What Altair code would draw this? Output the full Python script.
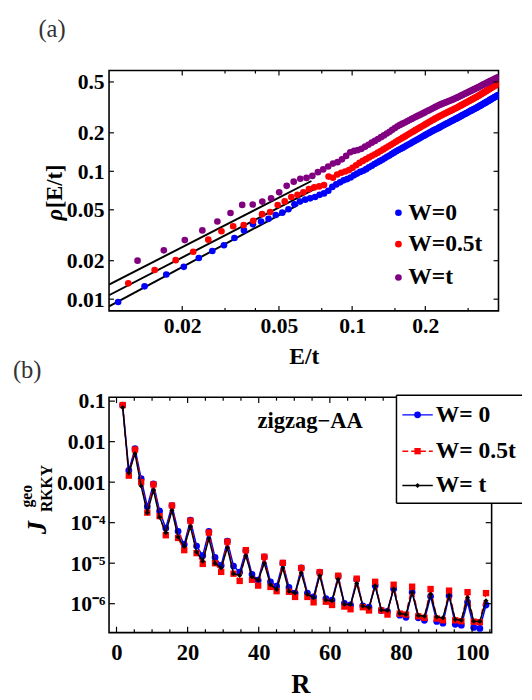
import altair as alt
import pandas as pd

FONT = "Liberation Serif"

# ---------------- panel (a): density of states ----------------
series_a = ["W=0", "W=0.5t", "W=t"]
colors_a = ["#0000ff", "#ff0000", "#800080"]

E_W0 = [0.0109, 0.0140, 0.0172, 0.0203, 0.0234, 0.0266, 0.0297, 0.0328, 0.0359, 0.0391,
        0.0422, 0.0453, 0.0485, 0.0516, 0.0547, 0.0579, 0.0610, 0.0641, 0.0672, 0.0704,
        0.0735, 0.0766, 0.0798, 0.0829, 0.0860, 0.0892, 0.0923, 0.0954, 0.0985, 0.1017,
        0.1048, 0.1079, 0.1111, 0.1142, 0.1173, 0.1205, 0.1236, 0.1267, 0.1298, 0.1330,
        0.1361, 0.1392, 0.1424, 0.1455, 0.1486, 0.1518, 0.1549, 0.1580, 0.1611, 0.1643,
        0.1674, 0.1705, 0.1737, 0.1768, 0.1799, 0.1830, 0.1862, 0.1893, 0.1924, 0.1956,
        0.1987, 0.2018, 0.2050, 0.2081, 0.2112, 0.2143, 0.2175, 0.2206, 0.2237, 0.2269,
        0.2300, 0.2331, 0.2362, 0.2394, 0.2425, 0.2456, 0.2488, 0.2519, 0.2550, 0.2581,
        0.2613, 0.2644, 0.2675, 0.2707, 0.2738, 0.2769, 0.2800, 0.2832, 0.2863, 0.2894,
        0.2926, 0.2957, 0.2988, 0.3019, 0.3051, 0.3082, 0.3113, 0.3145, 0.3176, 0.3207,
        0.3238, 0.3270, 0.3301, 0.3332, 0.3364, 0.3395, 0.3426, 0.3457, 0.3489, 0.3520,
        0.3551, 0.3583, 0.3614, 0.3645, 0.3676, 0.3708, 0.3739, 0.3770, 0.3802, 0.3833,
        0.3864, 0.3895, 0.3927, 0.3958, 0.3990]
rho_W0 = [0.0095, 0.0126, 0.0156, 0.0179, 0.0210, 0.0238, 0.0264, 0.0301, 0.0345, 0.0385,
          0.0405, 0.0425, 0.0455, 0.0475, 0.0505, 0.0552, 0.0580, 0.0600, 0.0615, 0.0630,
          0.0655, 0.0672, 0.0705, 0.0755, 0.0790, 0.0820, 0.0850, 0.0870, 0.0895, 0.0930,
          0.0960, 0.0990, 0.1010, 0.1040, 0.1075, 0.1105, 0.1140, 0.1170, 0.1200, 0.1230,
          0.1265, 0.1300, 0.1330, 0.1365, 0.1400, 0.1435, 0.1465, 0.1495, 0.1525, 0.1555,
          0.1590, 0.1620, 0.1650, 0.1685, 0.1715, 0.1750, 0.1780, 0.1810, 0.1845, 0.1880,
          0.1910, 0.1945, 0.1975, 0.2005, 0.2040, 0.2070, 0.2100, 0.2130, 0.2150, 0.2185,
          0.2215, 0.2250, 0.2280, 0.2310, 0.2340, 0.2370, 0.2400, 0.2430, 0.2460, 0.2490,
          0.2520, 0.2550, 0.2580, 0.2605, 0.2640, 0.2670, 0.2700, 0.2735, 0.2765, 0.2795,
          0.2825, 0.2855, 0.2885, 0.2920, 0.2950, 0.2980, 0.3010, 0.3040, 0.3070, 0.3100,
          0.3130, 0.3160, 0.3195, 0.3225, 0.3260, 0.3290, 0.3325, 0.3360, 0.3395, 0.3430,
          0.3460, 0.3495, 0.3530, 0.3565, 0.3600, 0.3635, 0.3670, 0.3705, 0.3740, 0.3775,
          0.3810, 0.3845, 0.3880, 0.3915, 0.3950]

E_W05 = [0.0120, 0.0154, 0.0188, 0.0222, 0.0256, 0.0290, 0.0324, 0.0358, 0.0392, 0.0426,
         0.0460, 0.0494, 0.0528, 0.0562, 0.0596, 0.0630, 0.0664, 0.0698, 0.0732, 0.0766,
         0.0800, 0.0834, 0.0868, 0.0902, 0.0936, 0.0970, 0.1004, 0.1038, 0.1072, 0.1106,
         0.1140, 0.1174, 0.1208, 0.1242, 0.1276, 0.1310, 0.1344, 0.1378, 0.1412, 0.1446,
         0.1480, 0.1514, 0.1548, 0.1582, 0.1616, 0.1650, 0.1684, 0.1718, 0.1752, 0.1786,
         0.1820, 0.1854, 0.1888, 0.1922, 0.1956, 0.1990, 0.2024, 0.2058, 0.2092, 0.2126,
         0.2160, 0.2194, 0.2228, 0.2262, 0.2296, 0.2330, 0.2364, 0.2398, 0.2432, 0.2466,
         0.2500, 0.2534, 0.2568, 0.2602, 0.2636, 0.2670, 0.2704, 0.2738, 0.2772, 0.2806,
         0.2840, 0.2874, 0.2908, 0.2942, 0.2976, 0.3010, 0.3044, 0.3078, 0.3112, 0.3146,
         0.3180, 0.3214, 0.3248, 0.3282, 0.3316, 0.3350, 0.3384, 0.3418, 0.3452, 0.3486,
         0.3520, 0.3554, 0.3588, 0.3622, 0.3656, 0.3690, 0.3724, 0.3758, 0.3792, 0.3826,
         0.3860, 0.3894, 0.3928, 0.3962, 0.3996]
rho_W05 = [0.0133, 0.0169, 0.0202, 0.0235, 0.0292, 0.0340, 0.0372, 0.0380, 0.0410, 0.0462,
           0.0480, 0.0545, 0.0582, 0.0630, 0.0655, 0.0685, 0.0725, 0.0748, 0.0762, 0.0780,
           0.0910, 0.0890, 0.0945, 0.0975, 0.0997, 0.1023, 0.1064, 0.1116, 0.1163, 0.1206,
           0.1245, 0.1284, 0.1323, 0.1361, 0.1400, 0.1441, 0.1484, 0.1527, 0.1570, 0.1614,
           0.1658, 0.1702, 0.1746, 0.1789, 0.1833, 0.1876, 0.1920, 0.1964, 0.2008, 0.2052,
           0.2097, 0.2141, 0.2186, 0.2230, 0.2273, 0.2316, 0.2360, 0.2404, 0.2448, 0.2492,
           0.2536, 0.2580, 0.2625, 0.2665, 0.2705, 0.2742, 0.2780, 0.2818, 0.2855, 0.2893,
           0.2930, 0.2967, 0.3005, 0.3042, 0.3079, 0.3116, 0.3156, 0.3195, 0.3238, 0.3277,
           0.3320, 0.3360, 0.3402, 0.3442, 0.3485, 0.3525, 0.3568, 0.3607, 0.3650, 0.3690,
           0.3733, 0.3773, 0.3816, 0.3860, 0.3906, 0.3953, 0.4000, 0.4047, 0.4094, 0.4141,
           0.4189, 0.4236, 0.4284, 0.4332, 0.4380, 0.4428, 0.4476, 0.4525, 0.4573, 0.4622,
           0.4671, 0.4720, 0.4769, 0.4818, 0.4867]

E_Wt = [0.0131, 0.0168, 0.0205, 0.0242, 0.0279, 0.0316, 0.0353, 0.0390, 0.0427, 0.0464,
        0.0501, 0.0538, 0.0575, 0.0612, 0.0649, 0.0686, 0.0723, 0.0760, 0.0797, 0.0834,
        0.0871, 0.0908, 0.0945, 0.0982, 0.1019, 0.1056, 0.1093, 0.1130, 0.1167, 0.1204,
        0.1241, 0.1278, 0.1315, 0.1352, 0.1389, 0.1426, 0.1463, 0.1500, 0.1537, 0.1574,
        0.1611, 0.1648, 0.1685, 0.1722, 0.1759, 0.1796, 0.1833, 0.1870, 0.1907, 0.1944,
        0.1981, 0.2018, 0.2055, 0.2092, 0.2129, 0.2166, 0.2203, 0.2240, 0.2277, 0.2314,
        0.2351, 0.2388, 0.2425, 0.2462, 0.2499, 0.2536, 0.2573, 0.2610, 0.2647, 0.2684,
        0.2721, 0.2758, 0.2795, 0.2832, 0.2869, 0.2906, 0.2943, 0.2980, 0.3017, 0.3054,
        0.3091, 0.3128, 0.3165, 0.3202, 0.3239, 0.3276, 0.3313, 0.3350, 0.3387, 0.3424,
        0.3461, 0.3498, 0.3535, 0.3572, 0.3609, 0.3646, 0.3683, 0.3720, 0.3757, 0.3794,
        0.3831, 0.3868, 0.3905, 0.3942, 0.3979]
rho_Wt = [0.0200, 0.0241, 0.0290, 0.0345, 0.0405, 0.0472, 0.0546, 0.0550, 0.0580, 0.0615,
          0.0685, 0.0770, 0.0830, 0.0875, 0.0888, 0.0920, 0.0985, 0.1035, 0.1090, 0.1150,
          0.1180, 0.1240, 0.1320, 0.1410, 0.1445, 0.1465, 0.1500, 0.1560, 0.1615, 0.1675,
          0.1730, 0.1790, 0.1850, 0.1910, 0.1975, 0.2040, 0.2110, 0.2180, 0.2250, 0.2305,
          0.2360, 0.2410, 0.2465, 0.2515, 0.2570, 0.2620, 0.2675, 0.2725, 0.2775, 0.2825,
          0.2875, 0.2930, 0.2980, 0.3030, 0.3085, 0.3135, 0.3190, 0.3245, 0.3290, 0.3335,
          0.3380, 0.3420, 0.3460, 0.3500, 0.3540, 0.3580, 0.3620, 0.3660, 0.3705, 0.3750,
          0.3795, 0.3845, 0.3895, 0.3940, 0.3990, 0.4040, 0.4085, 0.4130, 0.4180, 0.4225,
          0.4275, 0.4320, 0.4370, 0.4415, 0.4460, 0.4510, 0.4560, 0.4610, 0.4660, 0.4710,
          0.4760, 0.4810, 0.4860, 0.4905, 0.4955, 0.5005, 0.5050, 0.5100, 0.5150, 0.5195,
          0.5245, 0.5290, 0.5340, 0.5385, 0.5430]

# power-law fit lines (two end points each)
fit_E_W0 = [0.01, 0.060]
fit_rho_W0 = [0.0088, 0.0547]
fit_E_W05 = [0.01, 0.075]
fit_rho_W05 = [0.01074, 0.0775]
fit_E_Wt = [0.01, 0.068]
fit_rho_Wt = [0.0130, 0.0840]

xa_major = [0.02, 0.05, 0.1, 0.2]
xa_minor = [0.03, 0.04, 0.075, 0.15, 0.3]
ya_major = [0.01, 0.02, 0.05, 0.1, 0.2, 0.5]
ya_title = ["ρ", "[E/t]"]

# ---------------- panel (b): RKKY coupling ----------------
series_b = ["W= 0", "W= 0.5t", "W= t"]
colors_b = ["#0000ff", "#ff0000", "#000000"]
R_sites = [1.73, 3.46, 5.20, 6.93, 8.66, 10.39, 12.12, 13.86, 15.59, 17.32,
           19.05, 20.78, 22.52, 24.25, 25.98, 27.71, 29.44, 31.18, 32.91, 34.64,
           36.37, 38.11, 39.84, 41.57, 43.30, 45.03, 46.77, 48.50, 50.23, 51.96,
           53.69, 55.43, 57.16, 58.89, 60.62, 62.35, 64.09, 65.82, 67.55, 69.28,
           71.01, 72.75, 74.48, 76.21, 77.94, 79.67, 81.41, 83.14, 84.87, 86.60,
           88.33, 90.07, 91.80, 93.53, 95.26, 96.99, 98.73, 100.46, 102.19, 103.92]
J_W0 = [0.080, 1.94e-3, 6.7e-3, 1.22e-3, 2.47e-4, 9.1e-4, 1.94e-4, 7.3e-5, 2.65e-4, 6.1e-5,
        2.9e-5, 1.16e-4, 2.65e-5, 1.53e-5, 6.1e-5, 1.39e-5, 8.8e-6, 3.5e-5, 8.5e-6, 6.0e-6,
        2.07e-5, 5.3e-6, 3.8e-6, 1.44e-5, 3.45e-6, 2.7e-6, 1.0e-5, 2.54e-6, 1.83e-6, 7.6e-6,
        1.83e-6, 1.47e-6, 6.0e-6, 1.34e-6, 1.23e-6, 4.8e-6, 1.02e-6, 9.3e-7, 4.0e-6, 8.8e-7,
        8.2e-7, 2.78e-6, 6.8e-7, 6.45e-7, 2.32e-6, 5.2e-7, 4.6e-7, 1.93e-6, 4.5e-7, 3.9e-7,
        1.52e-6, 3.65e-7, 3.3e-7, 1.58e-6, 3.1e-7, 2.95e-7, 1.1e-6, 2.6e-7, 2.45e-7, 9.3e-7]
J_W05 = [0.080, 1.45e-3, 6.4e-3, 1.0e-3, 1.77e-4, 8.8e-4, 1.45e-4, 4.9e-5, 2.65e-4, 4.2e-5,
         2.1e-5, 1.12e-4, 1.77e-5, 9.6e-6, 5.7e-5, 1.0e-5, 6.1e-6, 3.4e-5, 5.5e-6, 3.65e-6,
         2.1e-5, 3.9e-6, 2.8e-6, 1.44e-5, 2.6e-6, 2.04e-6, 1.02e-5, 1.97e-6, 1.47e-6, 7.6e-6,
         1.47e-6, 1.08e-6, 6.0e-6, 1.12e-6, 9.3e-7, 4.9e-6, 8.5e-7, 7.3e-7, 4.15e-6, 8.2e-7,
         6.8e-7, 3.47e-6, 6.8e-7, 5.4e-7, 2.94e-6, 5.7e-7, 5.4e-7, 2.63e-6, 4.9e-7, 4.5e-7,
         2.3e-6, 4.3e-7, 3.9e-7, 2.1e-6, 3.9e-7, 3.7e-7, 1.93e-6, 3.6e-7, 3.5e-7, 1.83e-6]
J_Wt = [0.070, 1.68e-3, 5.06e-3, 8.0e-4, 1.77e-4, 6.4e-4, 1.37e-4, 5.65e-5, 2.0e-4, 4.4e-5,
        2.6e-5, 8.0e-5, 1.9e-5, 1.12e-5, 4.05e-5, 1.0e-5, 7.7e-6, 2.4e-5, 5.5e-6, 5.0e-6,
        1.52e-5, 4.6e-6, 3.8e-6, 1.0e-5, 2.95e-6, 2.24e-6, 7.6e-6, 2.04e-6, 1.83e-6, 5.7e-6,
        1.7e-6, 1.4e-6, 4.9e-6, 1.23e-6, 1.18e-6, 4.0e-6, 9.7e-7, 9.5e-7, 3.16e-6, 8.8e-7,
        8.0e-7, 2.78e-6, 7.0e-7, 6.8e-7, 2.32e-6, 5.7e-7, 5.4e-7, 1.9e-6, 5.1e-7, 4.9e-7,
        1.7e-6, 4.7e-7, 4.5e-7, 1.6e-6, 4.1e-7, 3.9e-7, 1.4e-6, 3.7e-7, 3.65e-7, 1.18e-6]

xb_major = [0, 20, 40, 60, 80, 100]
xb_minor = [5, 10, 15, 25, 30, 35, 45, 50, 55, 65, 70, 75, 85, 90, 95, 105]
yb_major = [1e-1, 1e-2, 1e-3, 1e-4, 1e-5, 1e-6]
yb_labels = ["0.1", "0.01", "0.001", "10⁻⁴", "10⁻⁵", "10⁻⁶"]

# =====================================================================
WA, HA = 397, 245
WB, HB = 390, 240

xa_scale = alt.Scale(type="log", domain=[0.01, 0.4], nice=False)
ya_scale = alt.Scale(type="log", domain=[0.0081, 0.614], nice=False)
xa_axis = alt.Axis(values=xa_major, format="~g", title="E/t", ticks=False, domain=False,
                   grid=False, labelFontSize=22, labelPadding=5, titleFontSize=24,
                   titlePadding=9, labelFlush=False)
ya_axis = alt.Axis(values=ya_major, format="~g", title=None, ticks=False, domain=False,
                   grid=False, labelFontSize=22, labelPadding=5, labelFlush=False)
XA = alt.X("E:Q", scale=xa_scale, axis=xa_axis)
YA = alt.Y("rho:Q", scale=ya_scale, axis=ya_axis)

pts_a = pd.concat([pd.DataFrame({"E": e, "rho": r, "series": s})
                   for e, r, s in zip([E_W0, E_W05, E_Wt], [rho_W0, rho_W05, rho_Wt], series_a)])
fit_a = pd.concat([pd.DataFrame({"E": e, "rho": r, "series": s})
                   for e, r, s in zip([fit_E_W0, fit_E_W05, fit_E_Wt],
                                      [fit_rho_W0, fit_rho_W05, fit_rho_Wt], series_a)])

DOT = 46
lines_a = alt.Chart(fit_a).mark_line(color="black", strokeWidth=2, clip=True).encode(
    x=XA, y=YA, detail="series:N")
points_a = alt.Chart(pts_a).mark_circle(size=DOT, opacity=1, clip=True).encode(
    x=XA, y=YA,
    color=alt.Color("series:N", scale=alt.Scale(domain=series_a, range=colors_a), legend=None))


def xticks(vals, X, field, h, length):
    df = pd.DataFrame({field: vals})
    base = alt.Chart(df).mark_rule(color="black", strokeWidth=1.2)
    return [base.encode(x=X, y=alt.value(h), y2=alt.value(h - length)),
            base.encode(x=X, y=alt.value(0), y2=alt.value(length))]


def yticks(vals, Y, field, w, length):
    df = pd.DataFrame({field: vals})
    base = alt.Chart(df).mark_rule(color="black", strokeWidth=1.2)
    return [base.encode(y=Y, x=alt.value(0), x2=alt.value(length)),
            base.encode(y=Y, x=alt.value(w), x2=alt.value(w - length))]


ticks_a = (xticks(xa_major, XA, "E", HA, 5) + xticks(xa_minor, XA, "E", HA, 3)
           + yticks(ya_major, YA, "rho", WA, 5))

legend_a = []
for s, c, yy in zip(series_a, colors_a, [145, 177, 211]):
    df = pd.DataFrame({"label": [s]})
    legend_a.append(alt.Chart(df).mark_circle(size=DOT, color=c, opacity=1).encode(
        x=alt.value(295), y=alt.value(yy)))
    legend_a.append(alt.Chart(df).mark_text(align="left", baseline="middle", fontSize=24,
                                            fontWeight="bold", font=FONT, color="black").encode(
        x=alt.value(305), y=alt.value(yy), text="label:N"))

# y title of panel (a): italic rho + bold bracket part, rotated
ytitle_a = [
    alt.Chart(pd.DataFrame({"label": [ya_title[0]]})).mark_text(
        angle=270, align="center", baseline="middle", fontSize=23, fontWeight="bold",
        fontStyle="italic", font=FONT, color="black").encode(
        x=alt.value(-55), y=alt.value(147), text="label:N"),
    alt.Chart(pd.DataFrame({"label": [ya_title[1]]})).mark_text(
        angle=270, align="center", baseline="middle", fontSize=23, fontWeight="bold",
        font=FONT, color="black").encode(
        x=alt.value(-55), y=alt.value(118), text="label:N"),
]

tag_a = alt.Chart(pd.DataFrame({"label": ["(a)"]})).mark_text(
    align="left", baseline="top", fontSize=25, font=FONT, color="#333333").encode(
    x=alt.value(-72), y=alt.value(-54), text="label:N")

# invisible anchor that fixes the top-left corner of the whole figure
anchor = alt.Chart(pd.DataFrame({"k": [0]})).mark_rect(opacity=0).encode(
    x=alt.value(-102), x2=alt.value(-101), y=alt.value(-56), y2=alt.value(-55))

panel_a = alt.layer(lines_a, points_a, *ticks_a, *legend_a, *ytitle_a, tag_a, anchor).properties(
    width=WA, height=HA)

# ---------------- panel (b) ----------------
label_expr = f"'{yb_labels[-1]}'"
for v, lab in zip(reversed(yb_major[:-1]), reversed(yb_labels[:-1])):
    label_expr = f"datum.value > {v / 3:.4g} ? '{lab}' : ({label_expr})"

xb_scale = alt.Scale(domain=[-2.1, 105.5], nice=False, zero=False)
yb_scale = alt.Scale(type="log", domain=[1.93e-7, 0.125], nice=False)
xb_axis = alt.Axis(values=xb_major, format="d", title="R", ticks=False, domain=False, grid=False,
                   labelFontSize=23, labelPadding=9, titleFontSize=27, titlePadding=8,
                   labelFlush=False)
yb_axis = alt.Axis(values=yb_major, labelExpr=label_expr, title=None, ticks=False, domain=False,
                   grid=False, labelFontSize=22, labelPadding=4, labelFlush=False)
XB = alt.X("R:Q", scale=xb_scale, axis=xb_axis)
YB = alt.Y("J:Q", scale=yb_scale, axis=yb_axis)

df_b = [pd.DataFrame({"R": R_sites, "J": J}) for J in (J_W0, J_W05, J_Wt)]

blue_line = alt.Chart(df_b[0]).mark_line(color=colors_b[0], strokeWidth=1.5).encode(x=XB, y=YB)
blue_pts = alt.Chart(df_b[0]).mark_circle(color=colors_b[0], size=48, opacity=1).encode(x=XB, y=YB)
red_line = alt.Chart(df_b[1]).mark_line(color=colors_b[1], strokeWidth=1.5,
                                        strokeDash=[6, 3]).encode(x=XB, y=YB)
red_pts = alt.Chart(df_b[1]).mark_square(color=colors_b[1], size=42, opacity=1).encode(x=XB, y=YB)
black_line = alt.Chart(df_b[2]).mark_line(color=colors_b[2], strokeWidth=1.5).encode(x=XB, y=YB)
black_pts = alt.Chart(df_b[2]).mark_point(shape="diamond", filled=True, color=colors_b[2],
                                          size=26, opacity=1).encode(x=XB, y=YB)

ticks_b = (xticks(xb_major, XB, "R", HB, 6) + xticks(xb_minor, XB, "R", HB, 3.5)
           + yticks(yb_major, YB, "J", WB, 6))

one = pd.DataFrame({"k": [0]})
LX0, LX1, LY0, LY1 = 293, 421, -2, 108
leg_bg = alt.Chart(one).mark_rect(color="white").encode(
    x=alt.value(LX0), x2=alt.value(LX1), y=alt.value(LY0), y2=alt.value(LY1))
leg_top = alt.Chart(one).mark_rule(color="black", strokeWidth=1.5).encode(
    x=alt.value(LX0), x2=alt.value(LX1), y=alt.value(LY0))
leg_bot = alt.Chart(one).mark_rule(color="black", strokeWidth=1.5).encode(
    x=alt.value(LX0), x2=alt.value(LX1), y=alt.value(LY1))
leg_left = alt.Chart(one).mark_rule(color="black", strokeWidth=1.5).encode(
    x=alt.value(LX0), y=alt.value(LY0), y2=alt.value(LY1))

legend_b = [leg_bg, leg_top, leg_bot, leg_left]
marks_b = [
    lambda: alt.MarkDef(type="circle", color=colors_b[0], size=48, opacity=1),
    lambda: alt.MarkDef(type="square", color=colors_b[1], size=42, opacity=1),
    lambda: alt.MarkDef(type="point", shape="diamond", filled=True, color=colors_b[2], size=26, opacity=1),
]
dashes = [[1, 0], [6, 3], [1, 0]]
for s, c, yy, mk, dsh in zip(series_b, colors_b, [18, 55, 90], marks_b, dashes):
    df = pd.DataFrame({"label": [s]})
    legend_b.append(alt.Chart(df).mark_rule(color=c, strokeWidth=1.5, strokeDash=dsh).encode(
        x=alt.value(299), x2=alt.value(330), y=alt.value(yy)))
    legend_b.append(alt.Chart(df, mark=mk()).encode(x=alt.value(314.5), y=alt.value(yy)))
    legend_b.append(alt.Chart(df).mark_text(align="left", baseline="middle", fontSize=24,
                                            fontWeight="bold", font=FONT, color="black").encode(
        x=alt.value(333), y=alt.value(yy), text="label:N"))

note_b = alt.Chart(pd.DataFrame({"label": ["zigzag−AA"]})).mark_text(
    align="center", baseline="middle", fontSize=23, fontWeight="bold", font=FONT,
    color="black").encode(x=alt.value(205), y=alt.value(24), text="label:N")

ytitle_b = [
    alt.Chart(pd.DataFrame({"label": ["J"]})).mark_text(
        angle=270, align="center", baseline="middle", fontSize=27, fontWeight="bold",
        fontStyle="italic", font=FONT, color="black").encode(
        x=alt.value(-72), y=alt.value(133), text="label:N"),
    alt.Chart(pd.DataFrame({"label": ["geo"]})).mark_text(
        angle=270, align="center", baseline="middle", fontSize=16, fontWeight="bold",
        font=FONT, color="black").encode(x=alt.value(-84), y=alt.value(101), text="label:N"),
    alt.Chart(pd.DataFrame({"label": ["RKKY"]})).mark_text(
        angle=270, align="center", baseline="middle", fontSize=16, fontWeight="bold",
        font=FONT, color="black").encode(x=alt.value(-63), y=alt.value(93), text="label:N"),
]

tag_b = alt.Chart(pd.DataFrame({"label": ["(b)"]})).mark_text(
    align="left", baseline="top", fontSize=25, font=FONT, color="#333333").encode(
    x=alt.value(-98), y=alt.value(-40), text="label:N")

panel_b = alt.layer(blue_line, blue_pts, red_line, red_pts, black_line, black_pts,
                    *ticks_b, *legend_b, note_b, *ytitle_b, tag_b).properties(width=WB, height=HB)

chart = (
    alt.vconcat(panel_a, panel_b, spacing=88, bounds="flush")
    .properties(padding={"left": 0, "top": 0, "right": 0, "bottom": 0})
    .configure_view(stroke="black", strokeWidth=1.6)
    .configure_axis(labelFont=FONT, titleFont=FONT, labelFontWeight="bold",
                    titleFontWeight="bold", labelColor="black", titleColor="black")
)

chart.save("out.html", embed_options={"renderer": "svg", "actions": False})
